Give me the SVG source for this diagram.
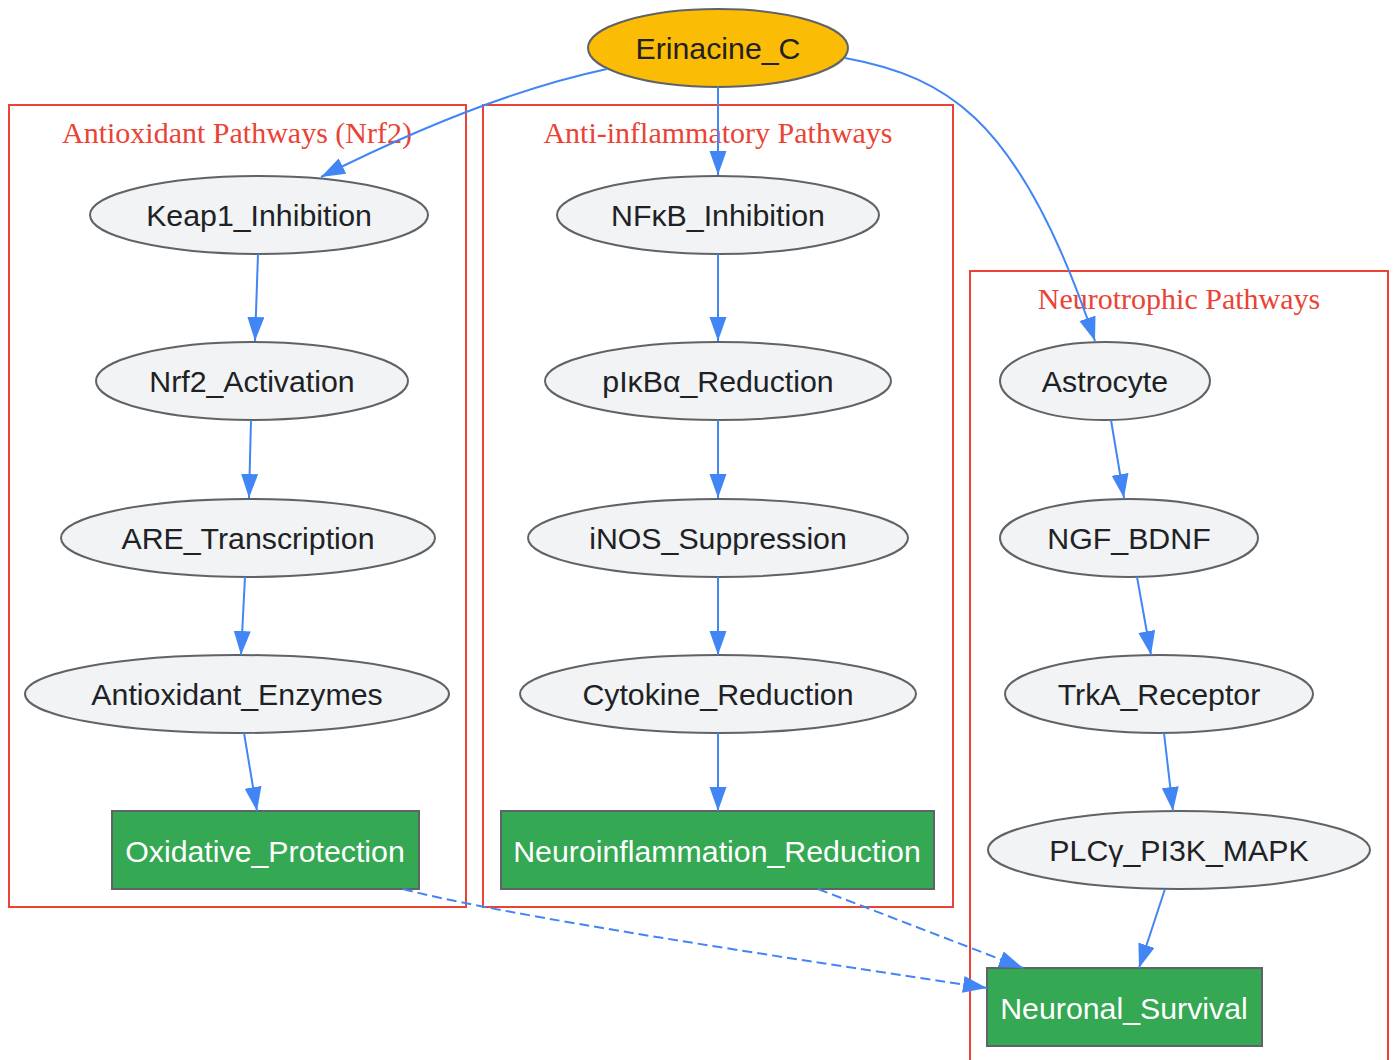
<svg xmlns="http://www.w3.org/2000/svg" width="1393" height="1060" viewBox="0 0 1393 1060">
<defs>
<marker id="ah" markerUnits="userSpaceOnUse" markerWidth="26" markerHeight="18" refX="24" refY="8.5" orient="auto">
<path d="M0,0 L24,8.5 L0,17 Z" fill="#4285F4"/>
</marker>
</defs>
<style>
.cl{fill:none;stroke:#EA4335;stroke-width:2}
.ct{font-family:"Liberation Serif",serif;font-size:30px;fill:#EA4335;text-anchor:middle}
.n ellipse{fill:#F1F3F4;stroke:#5F6368;stroke-width:2}
.n text{font-family:"Liberation Sans",Arial,sans-serif;font-size:30.3px;fill:#202124;text-anchor:middle}
.g rect{fill:#34A853;stroke:#5F6368;stroke-width:2}
.g text{font-family:"Liberation Sans",Arial,sans-serif;font-size:30.3px;fill:#FFFFFF;text-anchor:middle}
.e path{fill:none;stroke:#4285F4;stroke-width:2;marker-end:url(#ah)}
.e .d{stroke-dasharray:10,5}
</style>
<rect width="1393" height="1060" fill="#FFFFFF"/>
<g id="clusters">
<rect class="cl" x="9" y="105" width="457" height="802"/>
<text class="ct" x="237" y="143">Antioxidant Pathways (Nrf2)</text>
<rect class="cl" x="483" y="105" width="470" height="802"/>
<text class="ct" x="718" y="143">Anti-inflammatory Pathways</text>
<rect class="cl" x="970" y="271" width="418" height="800"/>
<text class="ct" x="1179" y="309">Neurotrophic Pathways</text>
</g>
<g id="Erinacine_C" class="n"><ellipse cx="718" cy="48" rx="130" ry="39" style="fill:#FBBC05"/><text x="718" y="59">Erinacine_C</text></g>
<g id="Keap1_Inhibition" class="n"><ellipse cx="259" cy="215" rx="169" ry="39"/><text x="259" y="226">Keap1_Inhibition</text></g>
<g id="Nrf2_Activation" class="n"><ellipse cx="252" cy="381" rx="156" ry="39"/><text x="252" y="392">Nrf2_Activation</text></g>
<g id="ARE_Transcription" class="n"><ellipse cx="248" cy="538" rx="187" ry="39"/><text x="248" y="549">ARE_Transcription</text></g>
<g id="Antioxidant_Enzymes" class="n"><ellipse cx="237" cy="694" rx="212" ry="39"/><text x="237" y="705">Antioxidant_Enzymes</text></g>
<g id="Oxidative_Protection" class="g"><rect x="112" y="811" width="307" height="78"/><text x="265" y="862">Oxidative_Protection</text></g>
<g id="NFkB_Inhibition" class="n"><ellipse cx="718" cy="215" rx="161" ry="39"/><text x="718" y="226">NFκB_Inhibition</text></g>
<g id="pIkBa_Reduction" class="n"><ellipse cx="718" cy="381" rx="173" ry="39"/><text x="718" y="392">pIκBα_Reduction</text></g>
<g id="iNOS_Suppression" class="n"><ellipse cx="718" cy="538" rx="190" ry="39"/><text x="718" y="549">iNOS_Suppression</text></g>
<g id="Cytokine_Reduction" class="n"><ellipse cx="718" cy="694" rx="198" ry="39"/><text x="718" y="705">Cytokine_Reduction</text></g>
<g id="Neuroinflammation_Reduction" class="g"><rect x="501" y="811" width="433" height="78"/><text x="717" y="862">Neuroinflammation_Reduction</text></g>
<g id="Astrocyte" class="n"><ellipse cx="1105" cy="381" rx="105" ry="39"/><text x="1105" y="392">Astrocyte</text></g>
<g id="NGF_BDNF" class="n"><ellipse cx="1129" cy="538" rx="129" ry="39"/><text x="1129" y="549">NGF_BDNF</text></g>
<g id="TrkA_Receptor" class="n"><ellipse cx="1159" cy="694" rx="154" ry="39"/><text x="1159" y="705">TrkA_Receptor</text></g>
<g id="PLCg_PI3K_MAPK" class="n"><ellipse cx="1179" cy="850" rx="191" ry="39"/><text x="1179" y="861">PLCγ_PI3K_MAPK</text></g>
<g id="Neuronal_Survival" class="g"><rect x="987" y="968" width="275" height="78"/><text x="1124" y="1019">Neuronal_Survival</text></g>
<g id="edges" class="e">
<path d="M607,69 C560,79 470,102 321,177"/>
<path d="M718,87 L718,175"/>
<path d="M845,58 C900,68 940,85 975,118 C1030,170 1068,260 1095,341"/>
<path d="M258,254 L255,341"/>
<path d="M251,420 L249,498"/>
<path d="M245,577 L241,655"/>
<path d="M244,733 L257,811"/>
<path d="M718,254 L718,341"/>
<path d="M718,420 L718,498"/>
<path d="M718,577 L718,655"/>
<path d="M718,733 L718,811"/>
<path d="M1111,420 L1124,498"/>
<path d="M1137,577 L1151,655"/>
<path d="M1164,733 L1173,811"/>
<path d="M1165,889 L1139,968"/>
<path class="d" d="M403,889 C500,915 800,960 987,988"/>
<path class="d" d="M818,889 L1023,968"/>
</g>
</svg>
